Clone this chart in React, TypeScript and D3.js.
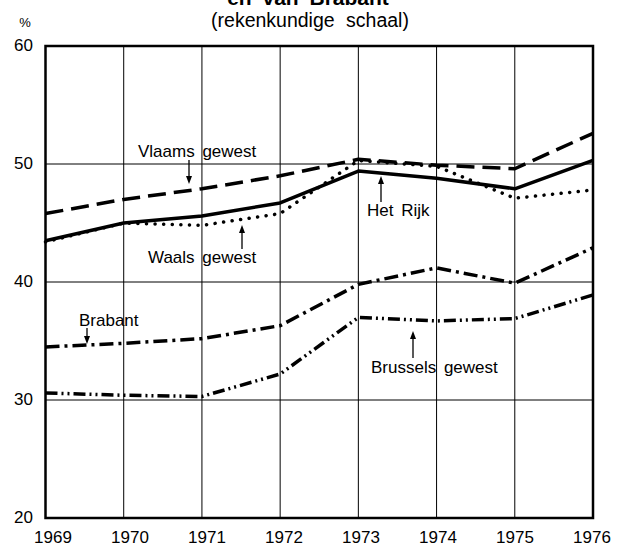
import * as d3 from "d3";

const years = [1969, 1970, 1971, 1972, 1973, 1974, 1975, 1976];
const yTicks = [20, 30, 40, 50, 60];

const vlaams = [45.8, 47.0, 47.9, 49.0, 50.4, 49.9, 49.6, 52.6];
const rijk = [43.5, 45.0, 45.6, 46.7, 49.4, 48.8, 47.9, 50.3];
const waals = [43.4, 45.0, 44.8, 45.8, 50.3, 49.8, 47.1, 47.8];
const brabant = [34.5, 34.8, 35.2, 36.3, 39.8, 41.2, 39.9, 42.9];
const brussels = [30.6, 30.4, 30.3, 32.2, 37.0, 36.7, 36.9, 38.9];

const FONT = "'Liberation Sans', Arial, sans-serif";

export default function App() {
  const x = d3.scaleLinear().domain([1969, 1976]).range([45.5, 593]);
  // the year labels sit a little right of their gridlines on the left side
  const xLabel = d3.scaleLinear().domain([1969, 1976]).range([53, 592]);
  const y = d3.scaleLinear().domain([20, 60]).range([518, 46]);

  const line = d3
    .line<number>()
    .x((d, i) => x(years[i]))
    .y((d) => y(d));

  const series = [
    { values: brussels, dash: "12 4 2 4 2 4", cap: "butt" },
    { values: brabant, dash: "14 5 3 5", cap: "butt" },
    { values: waals, dash: "0.1 8.5", cap: "round" },
    { values: vlaams, dash: "18 8", cap: "butt" },
    { values: rijk, dash: null, cap: "butt" },
  ];

  // labels with arrows: text start, baseline, arrow x, arrow from -> to (tip)
  const notes = [
    { text: "Vlaams gewest", tx: 138, ty: 157, ax: 189, from: 160, to: 184 },
    { text: "Waals gewest", tx: 148, ty: 263, ax: 242, from: 249, to: 225 },
    { text: "Het Rijk", tx: 367, ty: 216, ax: 381, from: 202, to: 176 },
    { text: "Brabant", tx: 79, ty: 326, ax: 87, from: 328, to: 344 },
    { text: "Brussels gewest", tx: 371, ty: 373, ax: 413, from: 358, to: 331 },
  ];

  return (
    <svg
      width={628}
      height={546}
      style={{ position: "absolute", left: 0, top: 0, background: "#fff" }}
      fontFamily={FONT}
    >
      <text x={308} y={5} textAnchor="middle" fontSize={21} fontWeight="bold" wordSpacing={5}>
        en van Brabant
      </text>
      <text x={310} y={27} textAnchor="middle" fontSize={19.5} wordSpacing={6}>
        (rekenkundige schaal)
      </text>
      <text x={25} y={27} textAnchor="middle" fontSize={13}>
        %
      </text>

      {/* grid */}
      {years.slice(1, -1).map((yr) => (
        <line key={yr} x1={x(yr)} x2={x(yr)} y1={y(60)} y2={y(20)} stroke="#000" strokeWidth={1} />
      ))}
      {yTicks.slice(1, -1).map((t) => (
        <line key={t} x1={x(1969)} x2={x(1976)} y1={y(t)} y2={y(t)} stroke="#000" strokeWidth={1} />
      ))}
      <rect
        x={x(1969)}
        y={y(60)}
        width={x(1976) - x(1969)}
        height={y(20) - y(60)}
        fill="none"
        stroke="#000"
        strokeWidth={2.5}
      />

      {/* tick labels */}
      {yTicks.map((t) => (
        <text key={t} x={33} y={y(t) + 1} textAnchor="end" fontSize={17} dominantBaseline="middle">
          {t}
        </text>
      ))}
      {years.map((yr) => (
        <text key={yr} x={xLabel(yr)} y={543} textAnchor="middle" fontSize={17}>
          {yr}
        </text>
      ))}

      {/* series */}
      {series.map((s, i) => (
        <path
          key={i}
          d={line(s.values) || ""}
          fill="none"
          stroke="#000"
          strokeWidth={3.5}
          strokeDasharray={s.dash || undefined}
          strokeLinecap={s.cap as any}
          strokeLinejoin="round"
        />
      ))}

      {/* annotations */}
      {notes.map((n) => {
        const dir = n.to > n.from ? 1 : -1;
        return (
          <g key={n.text}>
            <text x={n.tx} y={n.ty} fontSize={17} wordSpacing={3}>
              {n.text}
            </text>
            <line x1={n.ax} x2={n.ax} y1={n.from} y2={n.to - dir * 6} stroke="#000" strokeWidth={1.3} />
            <path
              d={`M${n.ax - 3},${n.to - dir * 8} L${n.ax + 3},${n.to - dir * 8} L${n.ax},${n.to} Z`}
              fill="#000"
            />
          </g>
        );
      })}
    </svg>
  );
}
